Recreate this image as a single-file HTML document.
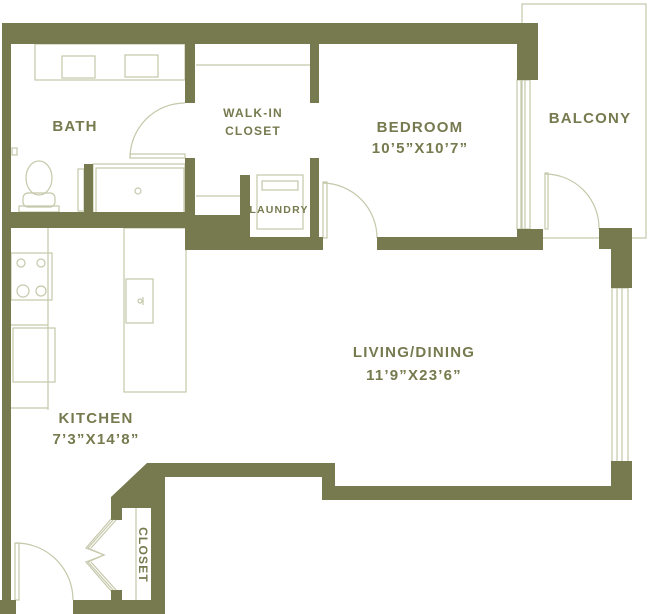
<!DOCTYPE html>
<html><head><style>
html,body{margin:0;padding:0;background:#fff;}
svg{display:block;}
text{font-family:"Liberation Sans",sans-serif;font-weight:bold;fill:#767a4e;letter-spacing:1.2px;}
</style></head><body>
<svg width="650" height="614" viewBox="0 0 650 614" xmlns="http://www.w3.org/2000/svg">
<g fill="none" stroke="#c5c8aa" stroke-width="1.2">
  <!-- balcony -->
  <rect x="522" y="4" width="124" height="234"/>
  <!-- vanity -->
  <rect x="35" y="44" width="150" height="36"/>
  <rect x="62" y="56" width="33" height="22"/>
  <rect x="125" y="55" width="33" height="22"/>
  <!-- walk-in shelves -->
  <line x1="196" y1="65" x2="310" y2="65"/>
  <line x1="196" y1="196" x2="240" y2="196"/>
  <!-- tub -->
  <rect x="93" y="164" width="92" height="53"/>
  <rect x="96" y="168" width="88" height="46"/>
  <circle cx="138" cy="191" r="3"/>
  <rect x="78" y="169" width="6" height="42"/>
  <!-- toilet -->
  <ellipse cx="39" cy="178" rx="13" ry="17"/>
  <rect x="23" y="193" width="32" height="14" rx="5"/>
  <rect x="19" y="206" width="40" height="6"/>
  <rect x="12" y="148" width="5" height="7"/>
  <!-- laundry -->
  <rect x="257" y="175" width="46" height="54"/>
  <rect x="262" y="181" width="36" height="9"/>
  <!-- kitchen -->
  <line x1="48" y1="228" x2="48" y2="410"/>
  <line x1="11" y1="408" x2="48" y2="408"/>
  <rect x="11" y="253" width="41" height="47"/>
  <circle cx="21" cy="263" r="4"/><circle cx="41" cy="263" r="4"/>
  <circle cx="23" cy="291" r="6"/><circle cx="41" cy="291" r="5"/>
  <line x1="11" y1="325" x2="48" y2="325"/>
  <rect x="13" y="328" width="42" height="54"/>
  <rect x="124" y="228" width="62" height="164"/>
  <rect x="126" y="279" width="27" height="44"/>
  <circle cx="140" cy="301" r="2"/>
  <line x1="143" y1="297" x2="143" y2="305"/>
  <!-- doors -->
  <path d="M185 103 A55 55 0 0 0 130 158"/>
  <rect x="130" y="154" width="55" height="4"/>
  <path d="M323 183 A55 55 0 0 1 377 238"/>
  <rect x="323" y="182" width="4" height="56"/>
  <path d="M545 174 A54 54 0 0 1 599 229"/>
  <rect x="545" y="173" width="3" height="56"/>
  <path d="M16 543 A57 57 0 0 1 73 600"/>
  <rect x="15" y="543" width="4" height="57"/>
  <!-- windows -->
  <rect x="517" y="80" width="13" height="149"/>
  <line x1="521" y1="80" x2="521" y2="229"/><line x1="525" y1="80" x2="525" y2="229"/>
  <rect x="612" y="288" width="16" height="174"/>
  <line x1="617" y1="288" x2="617" y2="462"/><line x1="622" y1="288" x2="622" y2="462"/>
  <!-- closet -->
  <line x1="136" y1="508" x2="136" y2="600"/>
  <path d="M112 518 L86 548 L104 555 L86 562 L112 592"/>
</g>
<g fill="#767a4e">
  <rect x="2" y="23" width="536" height="21"/>
  <rect x="517" y="23" width="21" height="57"/>
  <rect x="2" y="23" width="9" height="577"/>
  <rect x="0" y="600" width="16" height="14"/>
  <rect x="73" y="600" width="92" height="14"/>
  <polygon points="111,497 147,463 335,463 335,477 165,477 165,614 111,614"/>
  <rect x="322" y="463" width="13" height="37"/>
  <rect x="322" y="486" width="310" height="14"/>
  <rect x="611" y="461" width="21" height="39"/>
  <rect x="611" y="228" width="21" height="60"/>
  <rect x="599" y="228" width="33" height="21"/>
  <rect x="185" y="44" width="10" height="59"/>
  <rect x="185" y="158" width="10" height="60"/>
  <rect x="310" y="44" width="9" height="59"/>
  <rect x="310" y="158" width="9" height="92"/>
  <rect x="11" y="212" width="184" height="16"/>
  <rect x="84" y="164" width="9" height="50"/>
  <rect x="185" y="215" width="65" height="35"/>
  <rect x="240" y="175" width="10" height="75"/>
  <rect x="240" y="237" width="83" height="13"/>
  <rect x="377" y="237" width="166" height="13"/>
  <rect x="517" y="229" width="26" height="21"/>
</g>
<rect x="122" y="508" width="29" height="92" fill="#fff"/>
<rect x="111" y="520" width="11" height="70" fill="#fff"/>
<g fill="none" stroke="#c5c8aa" stroke-width="1.2">
  <line x1="136" y1="508" x2="136" y2="600"/>
  <path d="M113 520 L88 548 L104 555 L88 562 L113 590"/>
  <path d="M116 520 L91 548 M91 562 L116 590"/>
</g>
<text x="75" y="131" font-size="15" text-anchor="middle">BATH</text>
<text x="253" y="117" font-size="12" text-anchor="middle">WALK-IN</text>
<text x="253" y="135" font-size="12" text-anchor="middle">CLOSET</text>
<text x="279" y="213" font-size="10.5" text-anchor="middle" letter-spacing="0.6">LAUNDRY</text>
<text x="420" y="132" font-size="15" text-anchor="middle">BEDROOM</text>
<text x="420" y="153" font-size="15" text-anchor="middle">10’5”X10’7”</text>
<text x="590" y="123" font-size="15" text-anchor="middle">BALCONY</text>
<text x="414" y="357" font-size="15" text-anchor="middle">LIVING/DINING</text>
<text x="414" y="380" font-size="15" text-anchor="middle">11’9”X23’6”</text>
<text x="96" y="423" font-size="15" text-anchor="middle">KITCHEN</text>
<text x="96" y="444" font-size="15" text-anchor="middle">7’3”X14’8”</text>
<text x="0" y="0" font-size="12" text-anchor="middle" transform="translate(139 555) rotate(90)">CLOSET</text>
</svg>
</body></html>
